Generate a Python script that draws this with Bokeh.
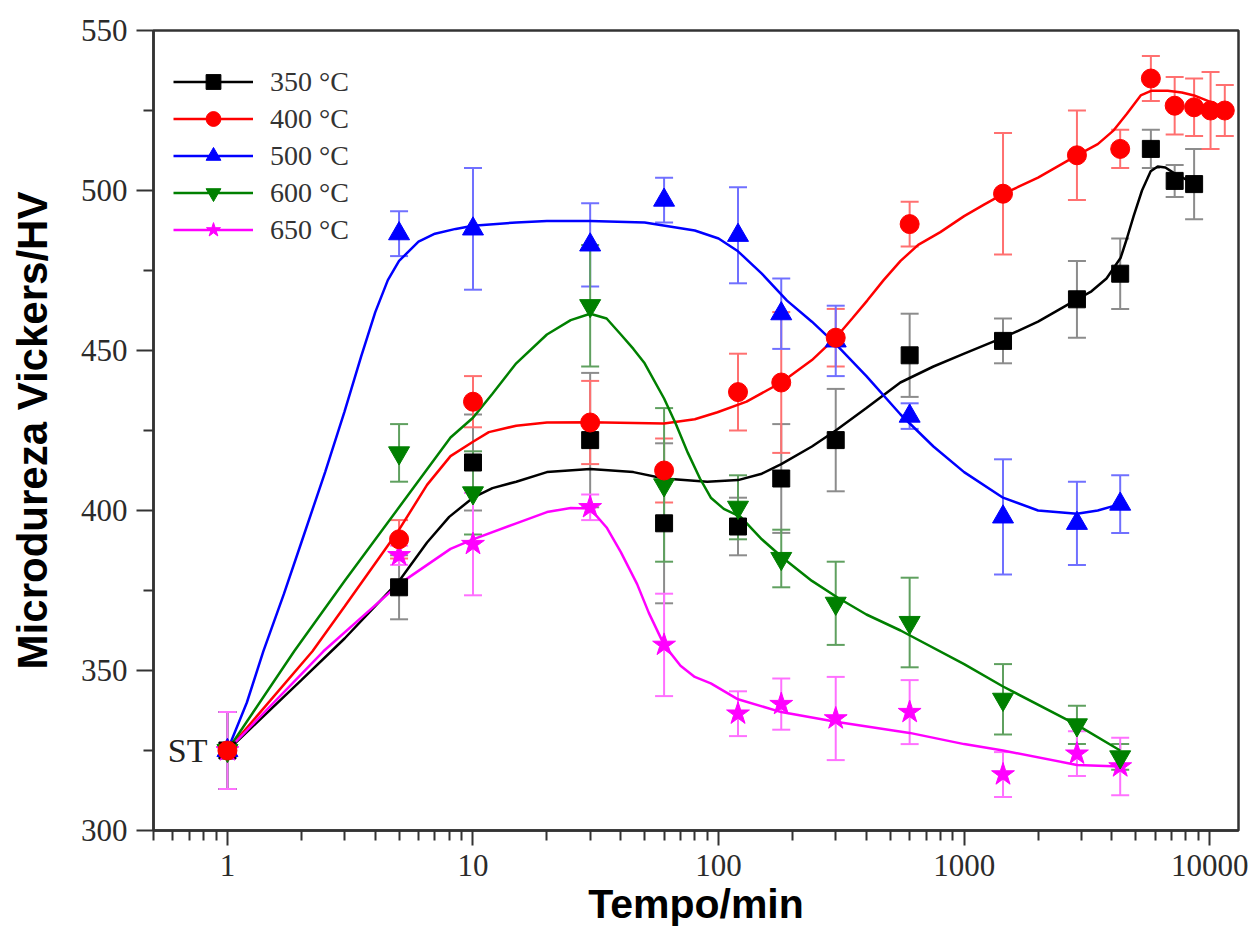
import numpy as np
from bokeh.plotting import figure
from bokeh.models import (ColumnDataSource, Whisker, TeeHead, FixedTicker,
                          PrintfTickFormatter, Label)
from bokeh.embed import file_html
from bokeh.resources import INLINE

# ---------------- data ----------------
series_labels = ["350 °C", "400 °C", "500 °C", "600 °C", "650 °C"]
series_colors = ["#000000", "#ff0000", "#0000ff", "#008000", "#ff00ff"]
errbar_colors = ["#8c8c8c", "#ff7070", "#7070ff", "#5fa05f", "#ff70ff"]
series_markers = ["square", "circle", "triangle", "inverted_triangle", "star"]

t_350 = [1, 5, 10, 30, 60, 120, 180, 300, 600, 1440, 2880, 4320, 5760, 7200, 8640]
hv_350 = [325, 376, 415, 422, 396, 395, 410, 422, 448.5, 453, 466, 474, 513, 503, 502]
err_350 = [12, 10, 15, 21, 25, 9, 17, 16, 13, 7, 12, 11, 6, 5, 11]

t_400 = [1, 5, 10, 30, 60, 120, 180, 300, 600, 1440, 2880, 4320, 5760, 7200, 8640, 10080, 11520]
hv_400 = [325, 391, 434, 427.5, 412.5, 437, 440, 454, 489.5, 499, 511, 513, 535, 526.5, 526, 525, 525]
err_400 = [12, 6, 8, 13, 10, 12, 22, 9, 7, 19, 14, 6, 7, 9, 9, 12, 8]

t_500 = [1, 5, 10, 30, 60, 120, 180, 300, 600, 1440, 2880, 4320]
hv_500 = [325, 486.5, 488, 483, 497, 486, 461.5, 453, 429.5, 398, 396, 402]
err_500 = [12, 7, 19, 13, 7, 15, 11, 11, 4, 18, 13, 9]

t_600 = [1, 5, 10, 30, 60, 120, 180, 300, 600, 1440, 2880, 4320]
hv_600 = [325, 418, 405.5, 464, 408, 401, 385, 371, 365, 341, 333, 323]
err_600 = [12, 9, 13, 19, 24, 10, 9, 13, 14, 11, 6, 4]

t_650 = [1, 5, 10, 30, 60, 120, 180, 300, 600, 1440, 2880, 4320]
hv_650 = [325, 386, 389.5, 401, 358, 336.5, 339.5, 335, 337, 317.5, 324, 320]
err_650 = [12, 3, 16, 4, 16, 7, 8, 13, 10, 7, 7, 9]

# fitted curves as drawn in the picture
curve_t_350 = [1, 2, 3, 5, 6.5, 8, 10, 12, 15, 20, 30, 45, 60, 90, 120, 150, 180, 240,
               300, 400, 550, 750, 1000, 1440, 2000, 2880, 3300, 3800, 4340, 4600,
               4900, 5300, 5750, 6140, 6600, 7130, 8000, 8640]
curve_hv_350 = [325, 347, 360, 378, 390, 398, 404, 407, 409, 412, 413, 412, 410, 409,
                409.5, 411.5, 414.5, 420, 425, 432, 440, 445, 449, 454, 459, 466,
                468.5, 472.5, 479, 485, 492, 500, 506, 507.5, 507.2, 505.5, 503.5, 502]

curve_t_400 = [1, 2.22, 3, 5, 6.5, 8.1, 10, 11.6, 15, 20, 30, 60, 80, 99, 130, 180, 240,
               300, 350, 403, 470, 551, 650, 800, 1000, 1200, 1449, 2000, 2880, 3500,
               4064, 4600, 5236, 5800, 6750, 7700, 8640, 10000, 11700]
curve_hv_400 = [325, 356, 370, 394, 408, 417, 421.5, 424.5, 426.5, 427.5, 427.6, 427.2,
                428.5, 430.7, 434, 440, 447, 454, 460, 465.6, 472, 478, 483, 487, 492,
                495.5, 499, 504, 511, 514.5, 518.8, 524, 529.7, 531.2, 531.2, 530.6,
                529.7, 527.8, 525.6]

curve_t_500 = [1, 1.2, 1.4, 1.7, 2, 2.5, 3, 3.5, 4, 4.5, 5, 6, 7, 8.5, 10, 15, 20, 30,
               50, 80, 100, 120, 150, 190, 240, 300, 400, 551, 750, 1000, 1440, 2000,
               2880, 3500, 4320]
curve_hv_500 = [325, 340, 356, 374, 390, 412, 431, 448, 462, 472, 478, 484, 486.5, 488,
                489, 490, 490.5, 490.5, 490, 487.5, 485, 481, 474, 465.6, 459, 452,
                442, 430, 420, 412, 404, 400, 399, 400, 402]

curve_t_600 = [1, 1.87, 3, 5, 8.1, 10, 12, 15, 20, 25, 30, 35, 40, 45, 50, 60, 67, 75,
               84, 93, 105, 123, 150, 184, 240, 305, 400, 551, 1000, 1440, 2880, 4320]
curve_hv_600 = [325, 356, 378, 401, 422.8, 429, 436.5, 446, 455, 459.5, 461.5, 460, 455,
                450.5, 446, 435, 427, 418, 410, 404, 400.5, 398, 391, 385, 378, 372.8,
                367.5, 362.5, 352, 345, 333, 325]

curve_t_650 = [1, 2.46, 5, 8.1, 10, 15, 20, 25, 30, 35, 40, 46.6, 52, 60, 70, 80, 93,
               120, 180, 300, 600, 1000, 1440, 2880, 4320]
curve_hv_650 = [325, 356, 377, 388, 391, 396, 399.5, 400.8, 400.6, 394.7, 387, 377, 368,
                358, 351.5, 348, 346, 341, 337, 334, 330.5, 327, 325, 320.5, 320]

x_major_ticks = [1, 10, 100, 1000, 10000]
y_major_ticks = [300, 350, 400, 450, 500, 550]
y_minor_ticks = [325, 375, 425, 475, 525]

points = [(t_350, hv_350, err_350), (t_400, hv_400, err_400), (t_500, hv_500, err_500),
          (t_600, hv_600, err_600), (t_650, hv_650, err_650)]
curves = [(curve_t_350, curve_hv_350), (curve_t_400, curve_hv_400),
          (curve_t_500, curve_hv_500), (curve_t_600, curve_hv_600),
          (curve_t_650, curve_hv_650)]
marker_sizes = [17, 19, 21, 21, 24]

# ---------------- figure ----------------
p = figure(width=1248, height=936, x_axis_type="log", x_range=(0.5, 13100),
           y_range=(300, 550), output_backend="svg", toolbar_location=None,
           min_border_left=153, min_border_right=10, min_border_top=30,
           min_border_bottom=106)
p.background_fill_color = "white"
p.border_fill_color = "white"
p.xgrid.visible = False
p.ygrid.visible = False
p.outline_line_color = "#333333"
p.outline_line_width = 2.5
p.outline_line_alpha = 1

# error bars
for (t, hv, err), col in zip(points, errbar_colors):
    hv_a = np.array(hv, dtype=float)
    er_a = np.array(err, dtype=float)
    src = ColumnDataSource(dict(t=t, up=hv_a + er_a, lo=hv_a - er_a))
    w = Whisker(source=src, base="t", upper="up", lower="lo", dimension="height",
                line_color=col, line_width=2,
                upper_head=TeeHead(size=18, line_color=col, line_width=2),
                lower_head=TeeHead(size=18, line_color=col, line_width=2),
                level="underlay")
    p.add_layout(w)

# curves
for (ct, chv), col, lab in zip(curves, series_colors, series_labels):
    p.line(ct, chv, line_color=col, line_width=2.5, legend_label=lab)

# markers (red drawn last so it sits on top at ST)
for i in [0, 4, 3, 2, 1]:
    t, hv, err = points[i]
    p.scatter(t, hv, marker=series_markers[i], size=marker_sizes[i],
              fill_color=series_colors[i], line_color=series_colors[i],
              legend_label=series_labels[i])

# axes
for ax in (p.xaxis[0], p.yaxis[0]):
    ax.axis_line_color = "#333333"
    ax.axis_line_width = 2.5
    ax.major_tick_line_color = "#333333"
    ax.minor_tick_line_color = "#333333"
    ax.major_tick_line_width = 2
    ax.minor_tick_line_width = 2
    ax.major_tick_in = 0
    ax.minor_tick_in = 0
    ax.minor_tick_out = 10
    ax.major_label_text_font = "Liberation Serif"
    ax.major_label_text_font_size = "31px"
    ax.major_label_text_color = "#2b2b2b"

x_minor = [m * 10.0 ** e for e in range(-1, 5) for m in range(2, 10)]
p.xaxis.ticker = FixedTicker(ticks=x_major_ticks, minor_ticks=x_minor)
p.xaxis.formatter = PrintfTickFormatter(format="%d")
p.xaxis.major_tick_out = 15
p.xaxis.major_label_standoff = 9
p.xaxis.axis_label = "Tempo/min"
p.xaxis.axis_label_text_font = "Liberation Sans"
p.xaxis.axis_label_text_font_style = "bold"
p.xaxis.axis_label_text_font_size = "41px"
p.xaxis.axis_label_text_color = "black"
p.xaxis.axis_label_standoff = 2

p.yaxis.ticker = FixedTicker(ticks=y_major_ticks, minor_ticks=y_minor_ticks)
p.yaxis.major_tick_out = 17
p.yaxis.major_label_standoff = 9
p.yaxis.axis_label = "Microdureza Vickers/HV"
p.yaxis.axis_label_text_font = "Liberation Sans"
p.yaxis.axis_label_text_font_style = "bold"
p.yaxis.axis_label_text_font_size = "42px"
p.yaxis.axis_label_text_color = "black"
p.yaxis.axis_label_standoff = 22

# ST annotation
p.add_layout(Label(x=1, y=325, x_offset=-20, text="ST", text_align="right",
                   text_baseline="middle", text_font="Liberation Serif",
                   text_font_size="34px", text_color="#222222"))

# legend
lg = p.legend[0]
lg.location = (20, 582)
lg.glyph_width = 80
lg.glyph_height = 37
lg.spacing = 0
lg.padding = 0
lg.margin = 0
lg.label_standoff = 17
lg.label_text_font = "Liberation Serif"
lg.label_text_font_size = "28px"
lg.label_text_color = "#333333"
lg.label_text_baseline = "middle"
lg.background_fill_alpha = 0
lg.border_line_color = None

open("out.html", "w").write(file_html(p, INLINE))
